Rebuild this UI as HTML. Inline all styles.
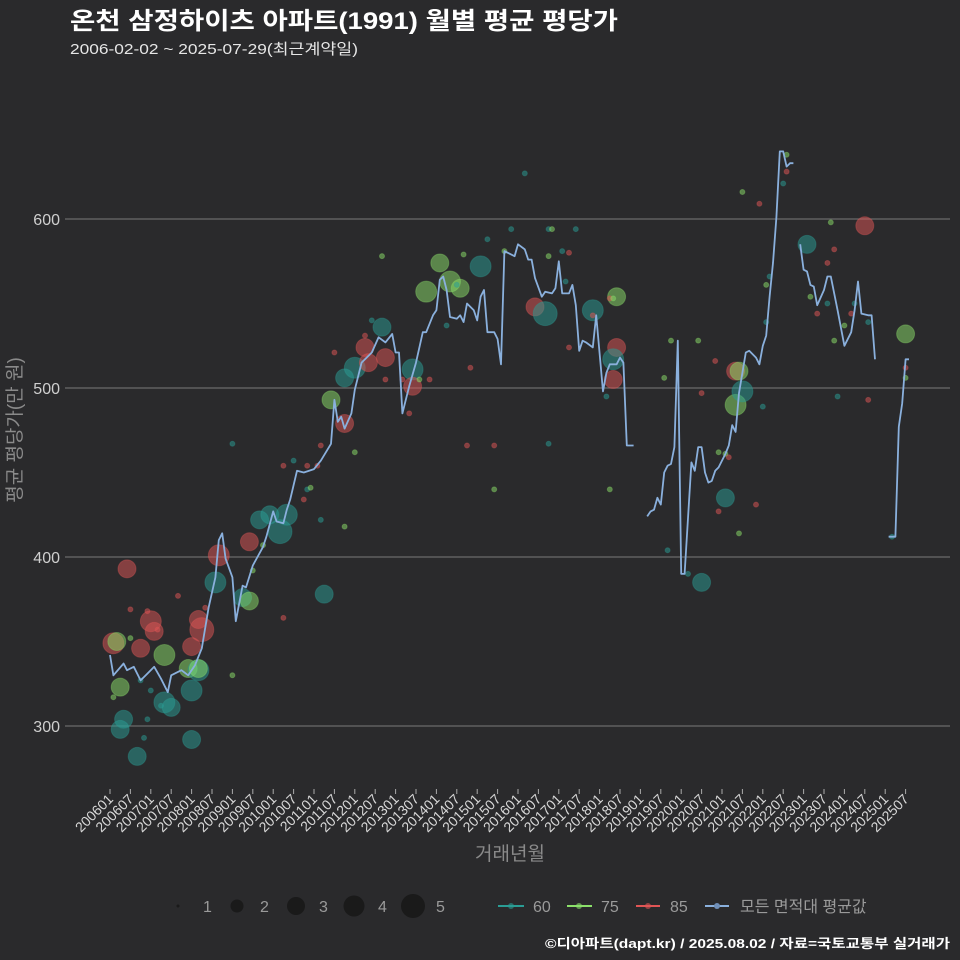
<!DOCTYPE html>
<html><head><meta charset="utf-8"><style>
html,body{margin:0;padding:0;background:#2a2a2c;}
svg{display:block;font-family:"Liberation Sans","Noto Sans CJK KR",sans-serif;}
</style></head><body>
<svg id="chart" width="960" height="960" viewBox="0 0 960 960">
<rect width="960" height="960" fill="#2a2a2c"/>
<text x="70" y="29" font-size="24" font-weight="bold" fill="#ffffff" textLength="548" lengthAdjust="spacingAndGlyphs">온천 삼정하이츠 아파트(1991) 월별 평균 평당가</text>
<text x="70" y="54" font-size="15" fill="#e6e6e6" textLength="288" lengthAdjust="spacingAndGlyphs">2006-02-02 ~ 2025-07-29(최근계약일)</text>
<g id="grid"></g>
<g id="yticks"></g>
<g id="xticks"></g>
<g id="bubbles"></g>
<g id="line"></g>
<text x="0" y="0" transform="translate(21,430) rotate(-90)" text-anchor="middle" font-size="19" fill="#8a8a8a">평균 평당가(만 원)</text>
<text x="510" y="860" text-anchor="middle" font-size="19" fill="#8a8a8a">거래년월</text>
<g>
<circle cx="178" cy="906" r="1.5" fill="#1a1a1a"/>
<text x="203" y="912" font-size="16" fill="#9a9a9a">1</text>
<circle cx="237" cy="906" r="6.5" fill="#1a1a1a"/>
<text x="260" y="912" font-size="16" fill="#9a9a9a">2</text>
<circle cx="296" cy="906" r="9" fill="#1a1a1a"/>
<text x="319" y="912" font-size="16" fill="#9a9a9a">3</text>
<circle cx="354" cy="906" r="10.5" fill="#1a1a1a"/>
<text x="378" y="912" font-size="16" fill="#9a9a9a">4</text>
<circle cx="413" cy="906" r="12" fill="#1a1a1a"/>
<text x="436" y="912" font-size="16" fill="#9a9a9a">5</text>
</g>
<g>
<line x1="498" y1="906" x2="524" y2="906" stroke="#2a9d95" stroke-width="2"/>
<circle cx="511" cy="906" r="3" fill="#2a9d95" opacity="0.6"/>
<text x="533" y="912" font-size="16" fill="#9a9a9a">60</text>
<line x1="567" y1="906" x2="592" y2="906" stroke="#8be06a" stroke-width="2"/>
<circle cx="579" cy="906" r="3" fill="#8be06a" opacity="0.6"/>
<text x="601" y="912" font-size="16" fill="#9a9a9a">75</text>
<line x1="636" y1="906" x2="660" y2="906" stroke="#e05555" stroke-width="2"/>
<circle cx="648" cy="906" r="3" fill="#e05555" opacity="0.6"/>
<text x="670" y="912" font-size="16" fill="#9a9a9a">85</text>
<line x1="705" y1="906" x2="729" y2="906" stroke="#8ab0dd" stroke-width="2"/>
<circle cx="717" cy="906" r="3" fill="#6f8fb8"/>
<text x="740" y="912" font-size="16" fill="#9a9a9a">모든 면적대 평균값</text>
</g>
<text x="950" y="948" text-anchor="end" font-size="13" font-weight="bold" fill="#ffffff" textLength="405" lengthAdjust="spacingAndGlyphs">©디아파트(dapt.kr) / 2025.08.02 / 자료=국토교통부 실거래가</text>
</svg>
<script>
const yTicks = [300, 400, 500, 600];
const xTickLabels = (function(){const a=[];for(let y=2006;y<=2025;y++){a.push(y+"01");a.push(y+"07");}return a;})();
const lineMonths = ["2006-01","2006-02","2006-05","2006-06","2006-08","2006-10","2006-12","2007-02","2007-04","2007-06","2007-07","2007-10","2007-12","2008-02","2008-04","2008-06","2008-08","2008-09","2008-10","2008-11","2009-01","2009-02","2009-04","2009-05","2009-07","2009-10","2009-11","2010-01","2010-02","2010-04","2010-05","2010-06","2010-08","2010-10","2011-01","2011-03","2011-06","2011-07","2011-08","2011-09","2011-10","2011-12","2012-01","2012-03","2012-06","2012-08","2012-10","2012-12","2013-01","2013-02","2013-03","2013-05","2013-07","2013-09","2013-10","2013-12","2014-01","2014-02","2014-03","2014-04","2014-05","2014-07","2014-08","2014-09","2014-10","2014-12","2015-01","2015-02","2015-03","2015-04","2015-06","2015-07","2015-08","2015-09","2015-10","2015-12","2016-01","2016-03","2016-04","2016-05","2016-06","2016-08","2016-09","2016-11","2016-12","2017-01","2017-02","2017-04","2017-05","2017-06","2017-07","2017-08","2017-09","2017-11","2017-12","2018-02","2018-03","2018-04","2018-06","2018-07","2018-08","2018-09","2018-11","2019-01","2019-03","2019-04","2019-05","2019-06","2019-07","2019-08","2019-09","2019-10","2019-11","2019-12","2020-01","2020-02","2020-04","2020-05","2020-06","2020-07","2020-08","2020-09","2020-10","2020-11","2020-12","2021-02","2021-03","2021-04","2021-05","2021-06","2021-07","2021-08","2021-09","2021-11","2021-12","2022-01","2022-02","2022-03","2022-04","2022-05","2022-06","2022-07","2022-08","2022-09","2022-10","2022-11","2022-12","2023-01","2023-02","2023-03","2023-04","2023-05","2023-07","2023-08","2023-09","2023-11","2024-01","2024-03","2024-04","2024-05","2024-06","2024-08","2024-09","2024-10","2024-12","2025-02","2025-04","2025-05","2025-06","2025-07","2025-08"];
const lineValues = [342,330,337,333,335,327,331,335,328,320,330,333,330,336,346,370,388,410,414,399,388,362,383,382,395,406,412,427,421,420,428,434,451,450,452,457,467,493,480,483,476,485,499,515,521,530,527,532,521,521,485,501,515,533,533,543,546,564,566,558,542,541,543,539,550,546,540,554,558,533,533,529,514,581,580,578,585,582,576,576,565,554,557,556,559,575,556,556,561,549,522,528,527,524,543,498,509,514,514,518,515,466,466,null,424,427,428,435,431,450,454,455,465,528,390,390,456,451,465,465,450,444,445,451,453,461,466,478,474,497,509,521,522,518,514,525,531,554,574,601,640,640,631,633,633,null,585,570,569,561,560,549,558,566,566,546,525,533,546,563,544,543,543,517,null,412,412,477,491,517,517];
const bubbleMonths = ["2006-02","2006-03","2006-04","2006-06","2006-04","2006-05","2006-09","2007-01","2007-02","2006-10","2007-05","2007-05","2007-07","2008-01","2007-12","2008-01","2008-01","2008-03","2008-03","2008-04","2008-03","2008-08","2008-09","2009-04","2009-06","2009-06","2009-09","2009-12","2010-03","2010-05","2011-04","2011-06","2011-10","2011-10","2012-01","2012-04","2012-05","2012-09","2012-10","2013-06","2013-06","2013-10","2014-02","2014-05","2014-08","2015-02","2016-06","2016-09","2017-11","2018-06","2018-06","2018-05","2018-05","2020-07","2021-02","2021-05","2021-05","2021-06","2021-07","2023-02","2024-07","2025-07",
"2006-07","2006-12","2007-03","2007-09","2008-05","2006-02","2006-07","2006-10","2007-01","2007-04","2006-12","2006-11","2009-07","2009-10","2009-01","2010-04","2009-01","2010-04","2010-10","2010-11","2011-02","2011-03","2011-03","2010-11","2010-07","2010-12","2011-10","2012-01","2011-07","2012-09","2012-10","2012-04","2012-06","2013-03","2013-05","2013-08","2013-11","2014-07","2014-09","2014-04","2014-10","2014-11","2015-04","2015-06","2015-06","2015-09","2015-11","2016-03","2016-10","2016-10","2016-11","2017-02","2017-03","2017-04","2017-06","2016-10","2018-03","2018-04","2017-11","2017-04","2018-04","2018-05",
"2019-09","2019-08","2019-10","2020-06","2020-07","2020-11","2020-12","2020-12","2021-02","2021-03","2021-06","2021-11","2022-01","2022-02","2022-02","2022-03","2021-07","2021-12","2022-08","2022-08","2022-07","2023-09","2023-10","2023-08","2023-03","2023-08","2023-05","2024-01","2023-10","2024-03","2024-04","2024-08","2023-11","2024-08","2025-07","2025-07","2025-03","2020-03"];
const bubbleValues = [349,350,323,393,298,304,282,362,356,346,342,314,311,292,334,347,321,333,334,357,363,385,401,376,374,409,422,425,415,425,378,493,479,506,512,524,515,536,518,511,501,557,574,563,559,572,548,544,546,554,524,517,505,385,435,490,510,510,498,585,596,532,
369,368,357,377,370,317,352,327,321,312,304,293,392,407,467,364,330,454,434,454,454,466,422,440,457,441,418,462,521,578,505,531,540,505,485,505,505,561,579,537,466,512,588,466,440,581,594,627,578,594,594,581,563,580,594,467,495,440,543,524,553,553,
404,506,528,528,497,516,427,462,461,459,414,431,489,539,561,566,616,609,638,628,621,598,582,574,554,550,544,537,528,544,550,539,495,493,512,506,412,390];
const bubbleAreas = [85,75,75,85,60,60,60,85,85,85,75,60,60,60,75,85,60,60,75,85,85,60,85,60,75,85,60,60,60,60,60,75,85,60,60,85,85,60,85,60,85,75,75,75,75,60,85,60,60,75,85,60,85,60,60,75,85,75,60,60,85,75,
85,85,85,85,85,75,75,60,60,60,60,60,75,75,60,85,75,85,85,85,85,85,60,60,60,75,75,75,85,75,85,85,60,85,85,75,85,60,75,60,85,85,60,85,75,75,60,60,75,60,75,60,60,85,60,60,60,75,85,85,85,75,
60,75,75,75,85,85,85,75,75,85,75,85,60,60,75,60,75,85,75,85,60,75,85,85,75,60,85,75,75,85,60,60,60,85,85,75,60,60];
const bubbleCounts = [4,3,3,3,3,3,3,4,3,3,4,4,3,3,3,3,4,4,3,5,3,4,4,3,3,3,3,3,5,4,3,3,3,3,4,3,3,3,3,4,3,4,3,4,3,4,3,5,4,3,3,4,3,3,3,4,3,3,4,3,3,3,
1,1,1,1,1,1,1,1,1,1,1,1,1,1,1,1,1,1,1,1,1,1,1,1,1,1,1,1,1,1,1,1,1,1,1,1,1,1,1,1,1,1,1,1,1,1,1,1,1,1,1,1,1,1,1,1,1,1,1,1,1,1,
1,1,1,1,1,1,1,1,1,1,1,1,1,1,1,1,1,1,1,1,1,1,1,1,1,1,1,1,1,1,1,1,1,1,1,1,1,1];

const NS = "http://www.w3.org/2000/svg";
function monthIndex(s){const y=parseInt(s.slice(0,4),10), m=parseInt(s.slice(-2),10);return (y-2006)*12+(m-1);}
function xScale(i){return 110 + i*3.4;}
function yScale(v){return 219 + (600-v)*1.69;}
function rScale(c){return [0,2.5,6.5,9,10.5,12][c];}
const colors = {60:"#2a9d95",75:"#8be06a",85:"#e05555"};
function mk(tag, attrs, parent){const e=document.createElementNS(NS,tag);for(const k in attrs)e.setAttribute(k,attrs[k]);parent.appendChild(e);return e;}

const grid = document.getElementById("grid"), yt = document.getElementById("yticks");
yTicks.forEach(v=>{
  const l = mk("line",{x1:65,x2:950,y1:yScale(v),y2:yScale(v),stroke:"#7a7a7a","stroke-width":1},grid);
  
  
  const t = mk("text",{x:60,y:yScale(v)+6,"text-anchor":"end","font-size":16,fill:"#cfcfcf"},yt);
  t.textContent = v;
  
  
});
const xt = document.getElementById("xticks");
xTickLabels.forEach(lab=>{
  const i = monthIndex(lab), x = xScale(i);
  const tk = mk("line",{x1:x,x2:x,y1:789,y2:794,stroke:"#aaaaaa","stroke-width":1},xt);
  
  
  const t = mk("text",{x:0,y:0,transform:"translate("+(x+4)+",800) rotate(-45)","text-anchor":"end","font-size":14,fill:"#d8d8d8"},xt);
  t.textContent = lab;
  
  
});
const bg = document.getElementById("bubbles");
bubbleMonths.forEach((m,k)=>{
  const c = mk("circle",{cx:xScale(monthIndex(m)),cy:yScale(bubbleValues[k]),r:rScale(bubbleCounts[k]),fill:colors[bubbleAreas[k]],"fill-opacity":0.5,stroke:colors[bubbleAreas[k]],"stroke-opacity":0.35,"stroke-width":1},bg);
  
  
});
const lg = document.getElementById("line");
let seg = [];
function flush(){
  if(seg.length>1){
    const p = mk("polyline",{points:seg.join(" "),fill:"none",stroke:"#8ab0dd","stroke-width":1.8,"stroke-linejoin":"round"},lg);
    
    
  }
  seg=[];
}
lineMonths.forEach((m,k)=>{
  const v = lineValues[k];
  if(v===null){flush();return;}
  seg.push(xScale(monthIndex(m)).toFixed(1)+","+yScale(v).toFixed(1));
});
flush();
</script>
</body></html>
